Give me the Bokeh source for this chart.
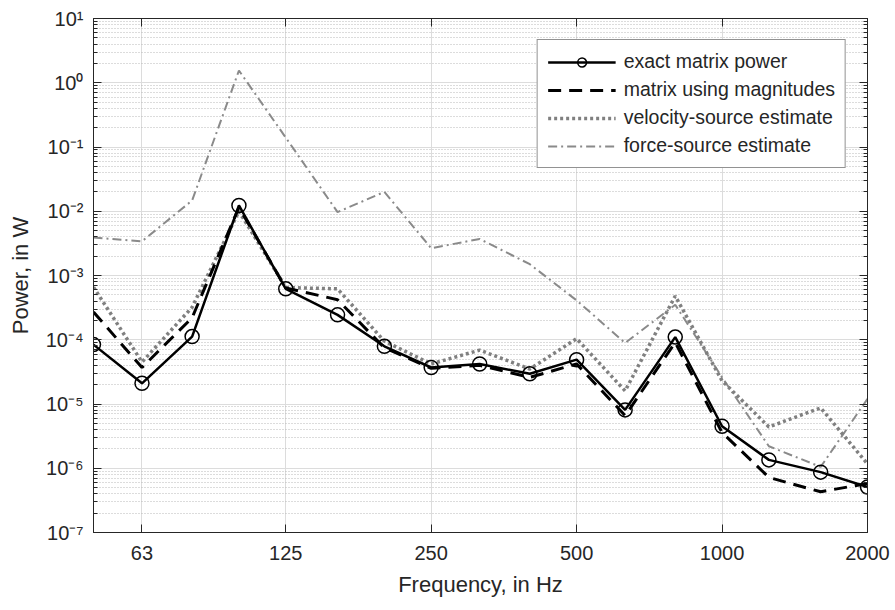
from bokeh.plotting import figure
from bokeh.models import (Range1d, FixedTicker, LogAxis, Legend, LegendItem,
                          ColumnDataSource, CustomJSTickFormatter)
from bokeh.embed import file_html
from bokeh.resources import INLINE

# ---- data ----
freq = [50, 63, 80, 100, 125, 160, 200, 250, 315, 400, 500, 630, 800, 1000, 1250, 1600, 2000]
exact_power = [8.4e-5, 2.1e-5, 1.12e-4, 1.23e-2, 6.2e-4, 2.44e-4, 7.9e-5, 3.7e-5, 4.2e-5,
               2.95e-5, 4.9e-5, 8.1e-6, 1.1e-4, 4.5e-6, 1.35e-6, 8.7e-7, 5.1e-7]
magnitude_power = [2.7e-4, 3.7e-5, 2.2e-4, 1.15e-2, 6.4e-4, 4.2e-4, 7.5e-5, 3.6e-5, 4.0e-5,
                   2.6e-5, 4.2e-5, 6.6e-6, 9.1e-5, 3.6e-6, 7.2e-7, 4.3e-7, 5.8e-7]
velocity_est = [6.6e-4, 4.5e-5, 3.2e-4, 1.0e-2, 6.5e-4, 6.2e-4, 9.5e-5, 4.2e-5, 6.9e-5,
                3.5e-5, 1.04e-4, 1.6e-5, 4.8e-4, 2.3e-5, 4.4e-6, 8.7e-6, 1.17e-6]
force_est = [3.9e-3, 3.4e-3, 1.47e-2, 1.55, 0.14, 9.7e-3, 2.0e-2, 2.66e-3, 3.7e-3,
             1.5e-3, 4.1e-4, 8.9e-5, 3.5e-4, 2.6e-5, 2.2e-6, 1.05e-6, 1.2e-5]

series_labels = ["exact matrix power", "matrix using magnitudes",
                 "velocity-source estimate", "force-source estimate"]
x_ticks = [63, 125, 250, 500, 1000, 2000]
y_exponents = list(range(-7, 2))

FONT = "Liberation Sans"
AX = "#262626"

src = ColumnDataSource(dict(f=freq, exact=exact_power, mag=magnitude_power,
                            vel=velocity_est, force=force_est))

p = figure(width=895, height=610, x_axis_type="log", y_axis_type="log",
           x_range=Range1d(50, 2000), y_range=Range1d(1e-7, 10),
           output_backend="svg", toolbar_location=None,
           min_border_left=93, min_border_right=28, min_border_top=18, min_border_bottom=78,
           background_fill_color="white", border_fill_color="white")
p.outline_line_color = AX
p.outline_line_width = 1

y_major = [10.0 ** e for e in y_exponents]
y_minor = [k * 10.0 ** e for e in y_exponents[:-1] for k in range(2, 10)]
yticker = FixedTicker(ticks=y_major, minor_ticks=y_minor)
xticker = FixedTicker(ticks=x_ticks, minor_ticks=[])

yfmt = CustomJSTickFormatter(code="""
const sup = {'-':'\u207b','0':'\u2070','1':'\u00b9','2':'\u00b2','3':'\u00b3','4':'\u2074',
             '5':'\u2075','6':'\u2076','7':'\u2077','8':'\u2078','9':'\u2079'};
const e = Math.round(Math.log10(tick));
return '10' + String(e).split('').map(c => sup[c]).join('');
""")
xfmt = CustomJSTickFormatter(code="return Math.round(tick).toString();")
blank = CustomJSTickFormatter(code="return '';")

xa = p.xaxis[0]
xa.ticker = xticker
xa.formatter = xfmt
xa.axis_label = "Frequency, in Hz"
ya = p.yaxis[0]
ya.ticker = yticker
ya.formatter = yfmt
ya.axis_label = "Power, in W"

for ax in (xa, ya):
    ax.axis_line_color = AX
    ax.major_tick_line_color = AX
    ax.minor_tick_line_color = AX
    ax.major_tick_in = 8
    ax.major_tick_out = 0
    ax.minor_tick_in = 4
    ax.minor_tick_out = 0
    ax.major_label_text_font = FONT
    ax.major_label_text_font_size = "20px"
    ax.major_label_text_color = AX
    ax.axis_label_text_font = FONT
    ax.axis_label_text_font_size = "22px"
    ax.axis_label_text_font_style = "normal"
    ax.axis_label_text_color = AX
xa.major_label_standoff = 13
xa.axis_label_standoff = 9
ya.major_label_standoff = 10
ya.axis_label_standoff = 10

# box axes (top / right) with inward ticks and no labels
right = LogAxis(ticker=yticker, formatter=blank,
                major_tick_in=8, major_tick_out=0, minor_tick_in=4, minor_tick_out=0,
                axis_line_color=AX, major_tick_line_color=AX, minor_tick_line_color=AX,
                major_label_standoff=0)
top = LogAxis(ticker=xticker, formatter=blank,
              major_tick_in=8, major_tick_out=0, minor_tick_in=0, minor_tick_out=0,
              axis_line_color=AX, major_tick_line_color=AX,
              major_label_standoff=0)
p.add_layout(right, "right")
p.add_layout(top, "above")

# grids
p.xgrid.grid_line_color = "#dcdcdc"
p.ygrid.grid_line_color = "#dcdcdc"
p.ygrid.minor_grid_line_color = "#b8b8b8"
p.ygrid.minor_grid_line_dash = "1 2"
p.ygrid.minor_grid_line_width = 1
p.xgrid.minor_grid_line_color = None

# series
r_force = p.line("f", "force", source=src, line_color="#8a8a8a", line_width=2,
                 line_dash="9 4 2 4")
r_vel = p.line("f", "vel", source=src, line_color="#808080", line_width=3.5,
               line_dash="3 3")
r_mag = p.line("f", "mag", source=src, line_color="black", line_width=3,
               line_dash="13 8")
r_exact = p.line("f", "exact", source=src, line_color="black", line_width=2.5)
r_circ = p.scatter("f", "exact", source=src, marker="circle", size=14,
                   fill_color=None, line_color="black", line_width=1.5)

legend = Legend(items=[
    LegendItem(label=series_labels[0], renderers=[r_exact, r_circ]),
    LegendItem(label=series_labels[1], renderers=[r_mag]),
    LegendItem(label=series_labels[2], renderers=[r_vel]),
    LegendItem(label=series_labels[3], renderers=[r_force]),
], location="top_right", margin=21, padding=10, spacing=5, label_height=22,
    glyph_width=68, glyph_height=22, label_standoff=8,
    label_text_font=FONT, label_text_font_size="19.5px", label_text_color=AX,
    border_line_color=AX, border_line_width=1, background_fill_color="white",
    background_fill_alpha=1)
p.add_layout(legend)

open("out.html", "w").write(file_html(p, INLINE))
